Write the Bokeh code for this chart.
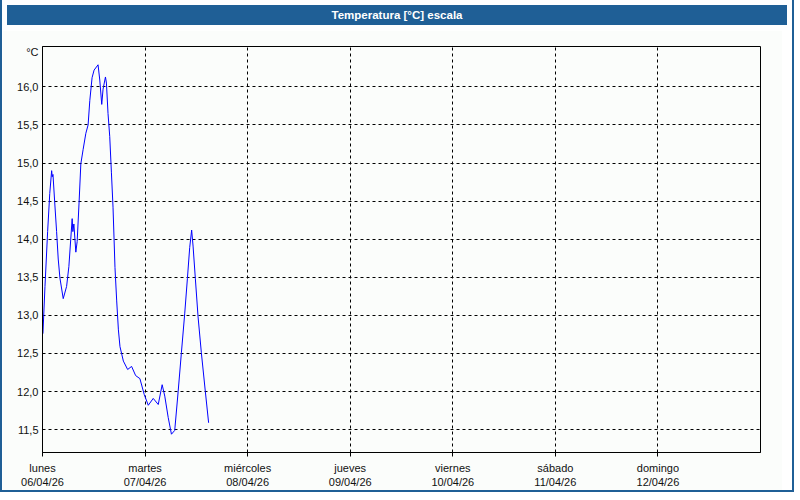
from bokeh.plotting import figure
from bokeh.models import Div, FixedTicker, Range1d, ColumnDataSource
from bokeh.layouts import column
from bokeh.embed import file_html
from bokeh.resources import INLINE

# --- data -------------------------------------------------------------
hours = [0.1, 0.58, 1.2, 1.7, 2.14, 2.28, 2.45, 2.84, 3.3, 3.68, 4.08, 4.85,
         5.64, 6.17, 6.94, 7.1, 7.34, 7.8, 8.11, 8.57, 8.97, 9.51, 10.14,
         10.67, 11.07, 11.6, 12.07, 13.0, 13.4, 13.86, 14.17, 14.73, 14.96,
         15.33, 15.73, 16.12, 16.5, 16.96, 17.36, 17.76, 18.13, 18.92, 19.92,
         20.85, 21.79, 22.79, 23.81, 24.75, 25.91, 27.08, 28.0, 28.61, 29.41,
         30.17, 30.94, 31.74, 32.5, 33.27, 33.9, 34.44, 34.9, 35.23, 35.77,
         36.4, 37.17, 38.1, 38.87]
temps = [12.76, 13.38, 14.1, 14.6, 14.90, 14.82, 14.85, 14.5, 14.1, 13.74,
         13.49, 13.22, 13.38, 13.64, 14.27, 14.1, 14.2, 13.83, 13.97, 14.5,
         14.99, 15.18, 15.39, 15.5, 15.82, 16.12, 16.22, 16.29, 16.09, 15.77,
         15.97, 16.13, 16.05, 15.65, 15.35, 14.88, 14.42, 13.63, 13.19, 12.81,
         12.59, 12.40, 12.29, 12.33, 12.21, 12.17, 11.96, 11.82, 11.91, 11.83,
         12.09, 11.94, 11.66, 11.44, 11.49, 12.0, 12.51, 13.02, 13.48, 13.89,
         14.12, 13.91, 13.48, 12.98, 12.51, 12.0, 11.59]

day_names = ["lunes", "martes", "miércoles", "jueves", "viernes", "sábado", "domingo"]
day_dates = ["06/04/26", "07/04/26", "08/04/26", "09/04/26", "10/04/26", "11/04/26", "12/04/26"]
y_ticks = [11.5, 12.0, 12.5, 13.0, 13.5, 14.0, 14.5, 15.0, 15.5, 16.0]
unit_label = "°C"
title_text = "Temperatura [°C] escala"

BG = "#fbfdfb"
BLUE = "#1f5f96"
FONT = "Liberation Sans"

W = 780
BAR_H = 20
H = 480 - BAR_H

bar = Div(text=title_text, width=W, height=BAR_H,
          styles={"background-color": BLUE, "color": "white",
                  "font-family": "'Liberation Sans Narrow', 'Liberation Sans', sans-serif",
                  "font-weight": "bold", "font-size": "11.5px",
                  "text-align": "center", "line-height": f"{BAR_H}px",
                  "width": f"{W}px", "height": f"{BAR_H}px"})

p = figure(width=W, height=H, output_backend="svg", toolbar_location=None,
           x_range=Range1d(0, 168), y_range=Range1d(11.2, 16.53),
           background_fill_color=BG, border_fill_color=BG,
           min_border_left=40, min_border_right=22, min_border_top=16,
           min_border_bottom=38)

src = ColumnDataSource(dict(h=hours, t=temps))
p.line("h", "t", source=src, line_color="#0000ff", line_width=1)

# x axis: days
xt = [i * 24 for i in range(len(day_names))]
p.xaxis.ticker = FixedTicker(ticks=xt)
p.xaxis.major_label_overrides = {t: f"{n}\n{d}" for t, n, d in zip(xt, day_names, day_dates)}
p.xaxis.minor_tick_line_color = None
p.xaxis.major_tick_in = 0
p.xaxis.major_tick_out = 4
p.xaxis.major_label_standoff = 5
p.xgrid.ticker = FixedTicker(ticks=xt[1:])

# y axis with unit label at top
unit_pos = 16.46
p.yaxis.ticker = FixedTicker(ticks=y_ticks + [unit_pos])
p.yaxis.major_label_overrides = {**{v: f"{v:.1f}".replace(".", ",") for v in y_ticks},
                                 unit_pos: unit_label}
p.yaxis.minor_tick_line_color = None
p.yaxis.major_tick_in = 0
p.yaxis.major_tick_out = 0
p.yaxis.major_label_standoff = 4
p.ygrid.ticker = FixedTicker(ticks=y_ticks)

for ax in (p.xaxis[0], p.yaxis[0]):
    ax.axis_line_color = "black"
    ax.axis_line_width = 1
    ax.major_tick_line_color = "black"
    ax.major_label_text_font = FONT
    ax.major_label_text_font_size = "11px"
    ax.major_label_text_color = "#111111"

for g in (p.xgrid[0], p.ygrid[0]):
    g.grid_line_color = "black"
    g.grid_line_dash = "3 3"
    g.grid_line_width = 1

p.outline_line_color = "black"
p.outline_line_width = 1
p.outline_line_alpha = 1

layout = column(bar, p, spacing=0,
                styles={"border": f"2px solid {BLUE}", "border-top": "0px"})
open("out.html", "w").write(file_html(layout, INLINE))
